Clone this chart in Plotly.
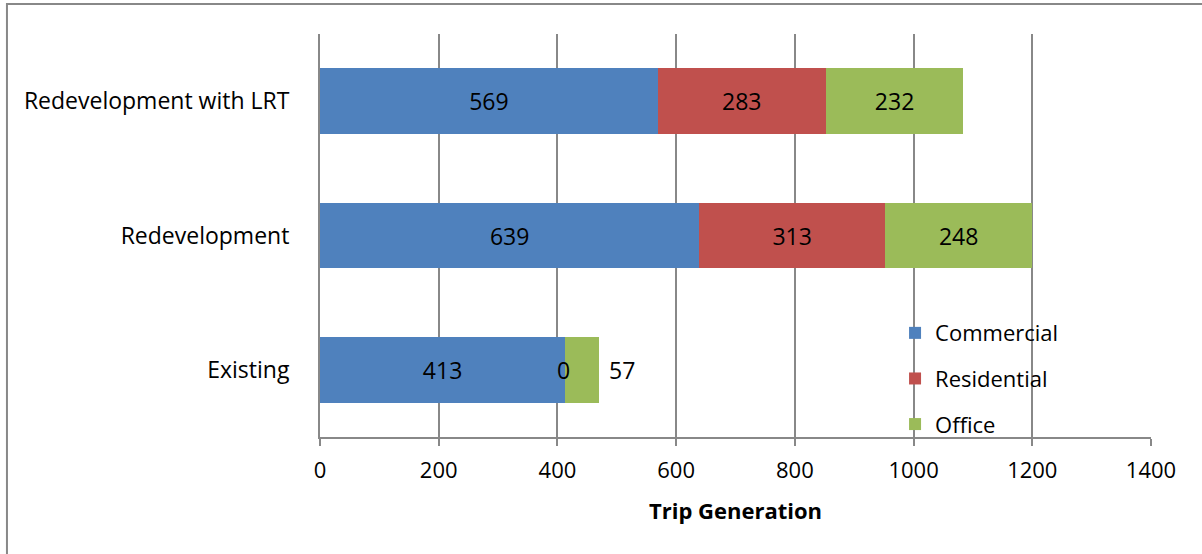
import plotly.graph_objects as go

scenarios = ["Existing", "Redevelopment", "Redevelopment with LRT"]
commercial = [413, 639, 569]
residential = [0, 313, 283]
office = [57, 248, 232]

series = [
    ("Commercial", commercial, "#4F81BD"),
    ("Residential", residential, "#C0504D"),
    ("Office", office, "#9BBB59"),
]

FONT = "Open Sans"
FS = 22
fig = go.Figure()

for name, vals, color in series:
    # Existing residential (0) and office (too narrow) get annotations below
    txt = [str(v) for v in vals]
    if name != "Commercial":
        txt[0] = ""
    fig.add_trace(
        go.Bar(
            y=scenarios,
            x=vals,
            name=name,
            orientation="h",
            marker=dict(color=color, line=dict(width=0)),
            text=txt,
            textposition="inside",
            insidetextanchor="middle",
            textfont=dict(family=FONT, size=23, color="black"),
            legendgroup=name,
            hoverinfo="x+name",
        )
    )

fig.add_annotation(x=commercial[0] + residential[0], y=scenarios[0], text=str(residential[0]),
                   showarrow=False, xshift=-2, font=dict(family=FONT, size=23, color="black"))
fig.add_annotation(x=commercial[0] + residential[0] + office[0], y=scenarios[0], text=str(office[0]),
                   showarrow=False, xanchor="left", xshift=8, font=dict(family=FONT, size=23, color="black"))

# outer chart border (top/left visible)
fig.add_shape(type="rect", xref="paper", yref="paper", x0=-0.3767, x1=1.2, y0=-0.5, y1=1.0744,
              line=dict(color="#888888", width=2), layer="below")

fig.update_layout(
    width=1202,
    height=554,
    margin=dict(l=320, r=51, t=34, b=117),
    barmode="stack",
    bargap=0.51,
    plot_bgcolor="white",
    paper_bgcolor="white",
    font=dict(family=FONT, size=FS, color="black"),
    showlegend=True,
    legend=dict(
        x=0.692, y=0.31, xanchor="left", yanchor="top",
        traceorder="grouped", tracegroupgap=14,
        bgcolor="rgba(0,0,0,0)",
        font=dict(family=FONT, size=FS, color="black"),
    ),
    xaxis=dict(
        range=[0, 1400],
        dtick=200,
        showgrid=True,
        gridcolor="#888888",
        gridwidth=1.5,
        zeroline=False,
        showline=True,
        linecolor="#888888",
        linewidth=2,
        ticks="outside",
        ticklen=7,
        tickcolor="#888888",
        tickwidth=2,
        ticklabelstandoff=6,
        tickfont=dict(family=FONT, size=FS),
        title=dict(text="<b>Trip Generation</b>", font=dict(family=FONT, size=FS), standoff=20),
    ),
    yaxis=dict(
        showgrid=False,
        zeroline=False,
        showline=True,
        linecolor="#888888",
        linewidth=2,
        ticks="",
        ticklabelstandoff=24,
        tickfont=dict(family=FONT, size=23),
    ),
)

fig.write_html("out.html", config={"displayModeBar": False},
               post_script="document.body.style.margin='0';")
